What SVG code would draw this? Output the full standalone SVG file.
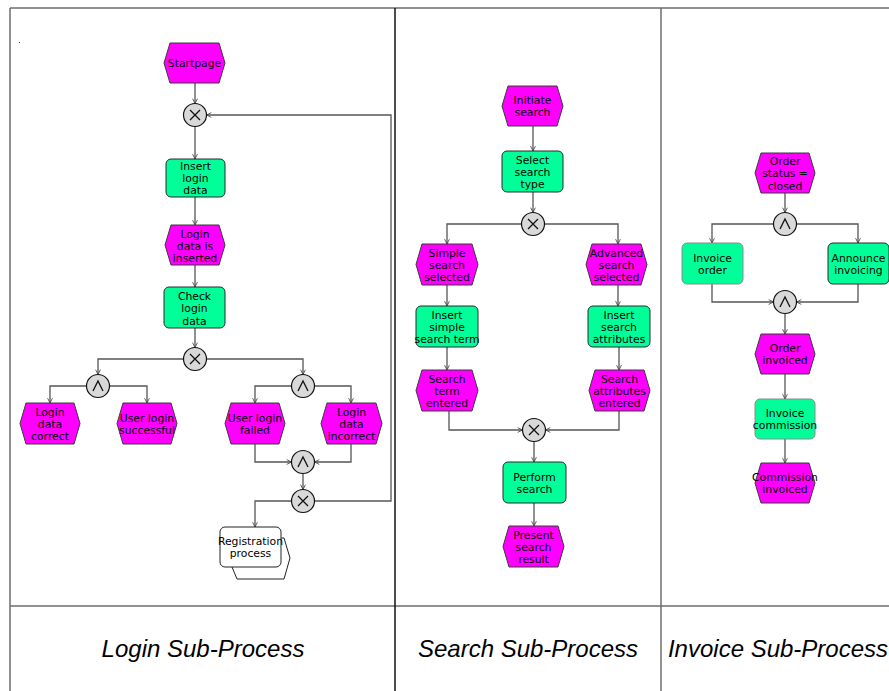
<svg xmlns="http://www.w3.org/2000/svg" width="889" height="691" viewBox="0 0 889 691">
  <style>
    .lane { stroke: #6e6e6e; stroke-width: 1.5; fill: none; }
    .ev { fill: #ff00ff; stroke: #3a3a3a; stroke-width: 1; }
    .fn { fill: #00ff99; stroke: #2a2a2a; stroke-width: 1; }
    .fn-lt { fill: #00ff99; stroke: #8a8a8a; stroke-width: 1; }
    .gw { fill: #d9d9d9; stroke: #111; stroke-width: 1.2; }
    .sym { fill: none; stroke: #111; stroke-width: 1.3; }
    .cn { fill: none; stroke: #555; stroke-width: 1.3; marker-end: url(#arr); }
    .if { fill: #fff; stroke: #222; stroke-width: 1; }
    .t { font-family: "DejaVu Sans", sans-serif; font-size: 10.8px; fill: #000; text-anchor: middle; }
    .cap { font-family: "Liberation Sans", Arial, sans-serif; font-size: 24px; font-style: italic; fill: #000; text-anchor: middle; }
  </style>
  <defs>
    <marker id="arr" viewBox="0 0 10 10" refX="9" refY="5" markerWidth="6" markerHeight="6" markerUnits="userSpaceOnUse" orient="auto">
      <path d="M1,1 L9,5 L1,9" fill="none" stroke="#444" stroke-width="1.4"/>
    </marker>
  </defs>

  <rect width="889" height="691" fill="#fff"/>

  <!-- lane table -->
  <g id="lanes">
    <path class="lane" d="M10,8 H889 M10,8 V691 M10,606 H889"/>
    <path d="M395,8 V691" stroke="#111" stroke-width="1.5"/>
    <path class="lane" d="M661,8 V691"/>
    <rect x="19" y="42" width="1" height="1" fill="#444"/>
    <text class="cap" x="203" y="657">Login Sub-Process</text>
    <text class="cap" x="528" y="657">Search Sub-Process</text>
    <text class="cap" x="778" y="657" font-size="23.6">Invoice Sub-Process</text>
  </g>

  <!-- connectors -->
  <g id="connectors">
    <path class="cn" d="M195,83 V103.5"/>
    <path class="cn" d="M195,126.5 V159"/>
    <path class="cn" d="M195,197 V225"/>
    <path class="cn" d="M195,265 V287"/>
    <path class="cn" d="M195,328 V347.5"/>
    <path class="cn" d="M183.5,359 H98 V374.5"/>
    <path class="cn" d="M206.5,359 H303 V374.5"/>
    <path class="cn" d="M86.5,386 H50 V403"/>
    <path class="cn" d="M109.5,386 H147 V403"/>
    <path class="cn" d="M291.5,386 H255 V403"/>
    <path class="cn" d="M314.5,386 H351 V403"/>
    <path class="cn" d="M255,444 V462 H291.5"/>
    <path class="cn" d="M351,444 V462 H314.5"/>
    <path class="cn" d="M303,473.5 V489.5"/>
    <path class="cn" d="M291.5,501 H255 V527"/>
    <path class="cn" d="M314.5,501 H391 V115 H206.5"/>

    <path class="cn" d="M533,126 V151"/>
    <path class="cn" d="M533,192 V212.5"/>
    <path class="cn" d="M521.5,224 H447 V244"/>
    <path class="cn" d="M544.5,224 H618 V244"/>
    <path class="cn" d="M447,285 V306"/>
    <path class="cn" d="M618,285 V306"/>
    <path class="cn" d="M447,347 V370"/>
    <path class="cn" d="M619,347 V370"/>
    <path class="cn" d="M449,411 V430 H522.5"/>
    <path class="cn" d="M619,411 V430 H545.5"/>
    <path class="cn" d="M534,441.5 V462"/>
    <path class="cn" d="M534,503 V526"/>

    <path class="cn" d="M785,193 V212.5"/>
    <path class="cn" d="M773.5,224 H712 V243"/>
    <path class="cn" d="M796.5,224 H858 V243"/>
    <path class="cn" d="M712,284 V302 H773.5"/>
    <path class="cn" d="M858,284 V302 H796.5"/>
    <path class="cn" d="M785,313.5 V334"/>
    <path class="cn" d="M785,374 V399"/>
    <path class="cn" d="M785,439 V463"/>
  </g>

  <!-- Login sub-process -->
  <g id="startpage">
    <polygon class="ev" points="170,43 219,43 225,63 219,83 170,83 164,63"/>
    <text class="t" x="194.5" y="67">Startpage</text>
  </g>
  <g id="xor-login-1">
    <circle class="gw" cx="195" cy="115" r="11.5"/>
    <path class="sym" d="M190,110 L200,120 M200,110 L190,120"/>
  </g>
  <g id="insert-login-data">
    <rect class="fn" x="166" y="159" width="59" height="38" rx="5"/>
    <text class="t" y="169.5"><tspan x="195.5">Insert</tspan><tspan x="195.5" dy="12.4">login</tspan><tspan x="195.5" dy="12.4">data</tspan></text>
  </g>
  <g id="login-data-inserted">
    <polygon class="ev" points="171,225 219,225 225,245 219,265 171,265 165,245"/>
    <text class="t" y="237.5"><tspan x="195">Login</tspan><tspan x="195" dy="12.4">data is</tspan><tspan x="195" dy="12.4">inserted</tspan></text>
  </g>
  <g id="check-login-data">
    <rect class="fn" x="164" y="287" width="61" height="41" rx="5"/>
    <text class="t" y="300"><tspan x="194.5">Check</tspan><tspan x="194.5" dy="12.4">login</tspan><tspan x="194.5" dy="12.4">data</tspan></text>
  </g>
  <g id="xor-login-2">
    <circle class="gw" cx="195" cy="359" r="11.5"/>
    <path class="sym" d="M190,354 L200,364 M200,354 L190,364"/>
  </g>
  <g id="and-login-ok">
    <circle class="gw" cx="98" cy="386" r="11.5"/>
    <path class="sym" d="M93,391 L98,381 L103,391"/>
  </g>
  <g id="and-login-fail">
    <circle class="gw" cx="303" cy="386" r="11.5"/>
    <path class="sym" d="M298,391 L303,381 L308,391"/>
  </g>
  <g id="login-data-correct">
    <polygon class="ev" points="26,403 74,403 80,423.5 74,444 26,444 20,423.5"/>
    <text class="t" y="415.5"><tspan x="50">Login</tspan><tspan x="50" dy="12.4">data</tspan><tspan x="50" dy="12.4">correct</tspan></text>
  </g>
  <g id="user-login-successful">
    <polygon class="ev" points="123,403 171,403 177,423.5 171,444 123,444 117,423.5"/>
    <text class="t" y="421.5"><tspan x="147">User login</tspan><tspan x="147" dy="12.4">successful</tspan></text>
  </g>
  <g id="user-login-failed">
    <polygon class="ev" points="231,403 279,403 285,423.5 279,444 231,444 225,423.5"/>
    <text class="t" y="421.5"><tspan x="255">User login</tspan><tspan x="255" dy="12.4">failed</tspan></text>
  </g>
  <g id="login-data-incorrect">
    <polygon class="ev" points="327,403 376,403 382,423.5 376,444 327,444 321,423.5"/>
    <text class="t" y="415.5"><tspan x="351.5">Login</tspan><tspan x="351.5" dy="12.4">data</tspan><tspan x="351.5" dy="12.4">incorrect</tspan></text>
  </g>
  <g id="and-login-merge">
    <circle class="gw" cx="303" cy="462" r="11.5"/>
    <path class="sym" d="M298,467 L303,457 L308,467"/>
  </g>
  <g id="xor-login-3">
    <circle class="gw" cx="303" cy="501" r="11.5"/>
    <path class="sym" d="M298,496 L308,506 M308,496 L298,506"/>
  </g>
  <g id="registration-process">
    <polygon class="if" points="240,538 284,538 290,558 284,579 237,579 232,567 232,540"/>
    <rect class="if" x="220" y="527" width="61" height="40" rx="5"/>
    <text class="t" y="545"><tspan x="250.5">Registration</tspan><tspan x="250.5" dy="12.4">process</tspan></text>
  </g>

  <!-- Search sub-process -->
  <g id="initiate-search">
    <polygon class="ev" points="508,86 557,86 563,106 557,126 508,126 502,106"/>
    <text class="t" y="104"><tspan x="532.5">Initiate</tspan><tspan x="532.5" dy="12.4">search</tspan></text>
  </g>
  <g id="select-search-type">
    <rect class="fn" x="502" y="151" width="61" height="41" rx="5"/>
    <text class="t" y="163.5"><tspan x="532.5">Select</tspan><tspan x="532.5" dy="12.4">search</tspan><tspan x="532.5" dy="12.4">type</tspan></text>
  </g>
  <g id="xor-search-1">
    <circle class="gw" cx="533" cy="224" r="11.5"/>
    <path class="sym" d="M528,219 L538,229 M538,219 L528,229"/>
  </g>
  <g id="simple-search-selected">
    <polygon class="ev" points="422,244 472,244 478,264.5 472,285 422,285 416,264.5"/>
    <text class="t" y="256.5"><tspan x="447">Simple</tspan><tspan x="447" dy="12.4">search</tspan><tspan x="447" dy="12.4">selected</tspan></text>
  </g>
  <g id="advanced-search-selected">
    <polygon class="ev" points="592,244 641,244 647,264.5 641,285 592,285 586,264.5"/>
    <text class="t" y="256.5"><tspan x="616.5">Advanced</tspan><tspan x="616.5" dy="12.4">search</tspan><tspan x="616.5" dy="12.4">selected</tspan></text>
  </g>
  <g id="insert-simple-search-term">
    <rect class="fn" x="416" y="306" width="62" height="41" rx="5"/>
    <text class="t" y="318.5"><tspan x="447">Insert</tspan><tspan x="447" dy="12.4">simple</tspan><tspan x="447" dy="12.4">search term</tspan></text>
  </g>
  <g id="insert-search-attributes">
    <rect class="fn" x="588" y="306" width="62" height="41" rx="5"/>
    <text class="t" y="318.5"><tspan x="619">Insert</tspan><tspan x="619" dy="12.4">search</tspan><tspan x="619" dy="12.4">attributes</tspan></text>
  </g>
  <g id="search-term-entered">
    <polygon class="ev" points="422,370 472,370 478,390.5 472,411 422,411 416,390.5"/>
    <text class="t" y="382.5"><tspan x="447">Search</tspan><tspan x="447" dy="12.4">term</tspan><tspan x="447" dy="12.4">entered</tspan></text>
  </g>
  <g id="search-attributes-entered">
    <polygon class="ev" points="595,370 644,370 650,390.5 644,411 595,411 589,390.5"/>
    <text class="t" y="382.5"><tspan x="619.5">Search</tspan><tspan x="619.5" dy="12.4">attributes</tspan><tspan x="619.5" dy="12.4">entered</tspan></text>
  </g>
  <g id="xor-search-2">
    <circle class="gw" cx="534" cy="430" r="11.5"/>
    <path class="sym" d="M529,425 L539,435 M539,425 L529,435"/>
  </g>
  <g id="perform-search">
    <rect class="fn" x="503" y="462" width="63" height="41" rx="5"/>
    <text class="t" y="480.5"><tspan x="534.5">Perform</tspan><tspan x="534.5" dy="12.4">search</tspan></text>
  </g>
  <g id="present-search-result">
    <polygon class="ev" points="509,526 558,526 564,546.5 558,567 509,567 503,546.5"/>
    <text class="t" y="538.5"><tspan x="533.5">Present</tspan><tspan x="533.5" dy="12.4">search</tspan><tspan x="533.5" dy="12.4">result</tspan></text>
  </g>

  <!-- Invoice sub-process -->
  <g id="order-status-closed">
    <polygon class="ev" points="761,153 809,153 815,173 809,193 761,193 755,173"/>
    <text class="t" y="165"><tspan x="785">Order</tspan><tspan x="785" dy="12.4">status =</tspan><tspan x="785" dy="12.4">closed</tspan></text>
  </g>
  <g id="and-invoice-split">
    <circle class="gw" cx="785" cy="224" r="11.5"/>
    <path class="sym" d="M780,229 L785,219 L790,229"/>
  </g>
  <g id="invoice-order">
    <rect class="fn-lt" x="682" y="243" width="61" height="41" rx="5"/>
    <text class="t" y="261.5"><tspan x="712.5">Invoice</tspan><tspan x="712.5" dy="12.4">order</tspan></text>
  </g>
  <g id="announce-invoicing">
    <rect class="fn" x="828" y="243" width="61" height="41" rx="5"/>
    <text class="t" y="261.5"><tspan x="858.5">Announce</tspan><tspan x="858.5" dy="12.4">invoicing</tspan></text>
  </g>
  <g id="and-invoice-merge">
    <circle class="gw" cx="785" cy="302" r="11.5"/>
    <path class="sym" d="M780,307 L785,297 L790,307"/>
  </g>
  <g id="order-invoiced">
    <polygon class="ev" points="761,334 809,334 815,354 809,374 761,374 755,354"/>
    <text class="t" y="352"><tspan x="785">Order</tspan><tspan x="785" dy="12.4">invoiced</tspan></text>
  </g>
  <g id="invoice-commission">
    <rect class="fn-lt" x="755" y="399" width="60" height="40" rx="5"/>
    <text class="t" y="417"><tspan x="785">Invoice</tspan><tspan x="785" dy="12.4">commission</tspan></text>
  </g>
  <g id="commission-invoiced">
    <polygon class="ev" points="761,463 809,463 815,483 809,503 761,503 755,483"/>
    <text class="t" y="481"><tspan x="785">Commission</tspan><tspan x="785" dy="12.4">invoiced</tspan></text>
  </g>
</svg>
